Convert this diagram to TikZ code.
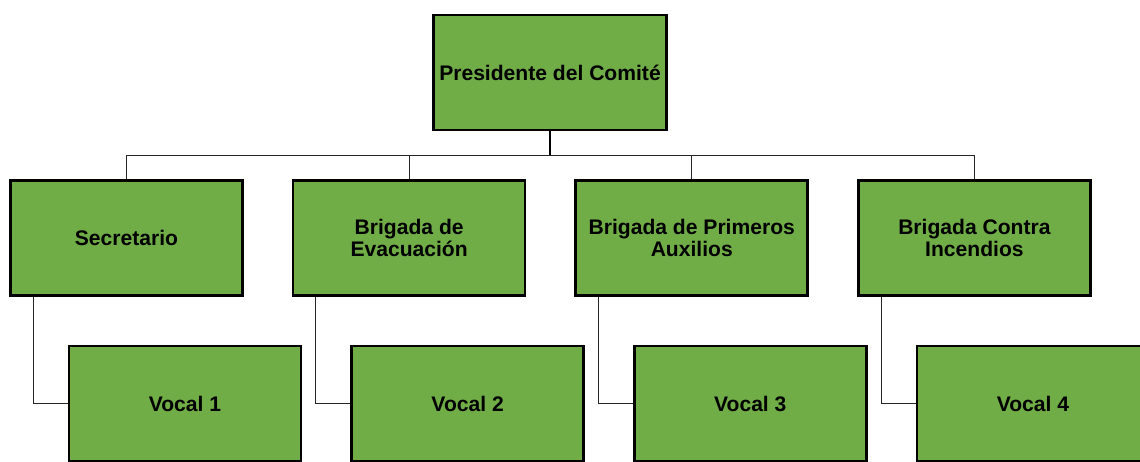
\documentclass[tikz,border=0pt]{standalone}
\usepackage{fontspec}
\setmainfont{Liberation Sans}
\usetikzlibrary{positioning}

\definecolor{boxgreen}{RGB}{112,173,71}

\tikzset{
    box/.style={draw, line width=1.5pt, fill=boxgreen, minimum width=4.64cm, minimum height=2.3cm, align=center, font=\fontsize{12}{12.5}\selectfont\bfseries},
    link/.style={line width=0.6pt, draw=black!85}
}

\begin{document}
\begin{tikzpicture}
    \useasboundingbox (0,0) rectangle (22.8,-9.24);

    \node [box] (pres) at (11.0,-1.45) {Presidente del Comit\'e};
    \node [box] (sec) at (2.53,-4.76) {Secretario};
    \node [box] (evac) [right=0.96cm of sec] {Brigada de\\Evacuaci\'on};
    \node [box] (aux) [right=0.96cm of evac] {Brigada de Primeros\\Auxilios};
    \node [box] (inc) [right=0.96cm of aux] {Brigada Contra\\Incendios};

    \node [box] (vocA) [below=0.96cm of sec, xshift=1.17cm] {Vocal 1};
    \node [box] (vocB) [below=0.96cm of evac, xshift=1.17cm] {Vocal 2};
    \node [box] (vocC) [below=0.96cm of aux, xshift=1.17cm] {Vocal 3};
    \node [box] (vocD) [below=0.96cm of inc, xshift=1.17cm] {Vocal 4};

    % lineas de mando
    \draw [line width=1pt] (pres.south) -- ++(0,-0.48) coordinate (bus);
    \draw [link] (sec.north) |- (bus) -| (inc.north);
    \draw [link] (evac.north) -- (evac.north |- bus);
    \draw [link] (aux.north) -- (aux.north |- bus);

    \draw [link] ([xshift=0.48cm]sec.south west) |- (vocA.west);
    \draw [link] ([xshift=0.48cm]evac.south west) |- (vocB.west);
    \draw [link] ([xshift=0.48cm]aux.south west) |- (vocC.west);
    \draw [link] ([xshift=0.48cm]inc.south west) |- (vocD.west);
\end{tikzpicture}
\end{document}
